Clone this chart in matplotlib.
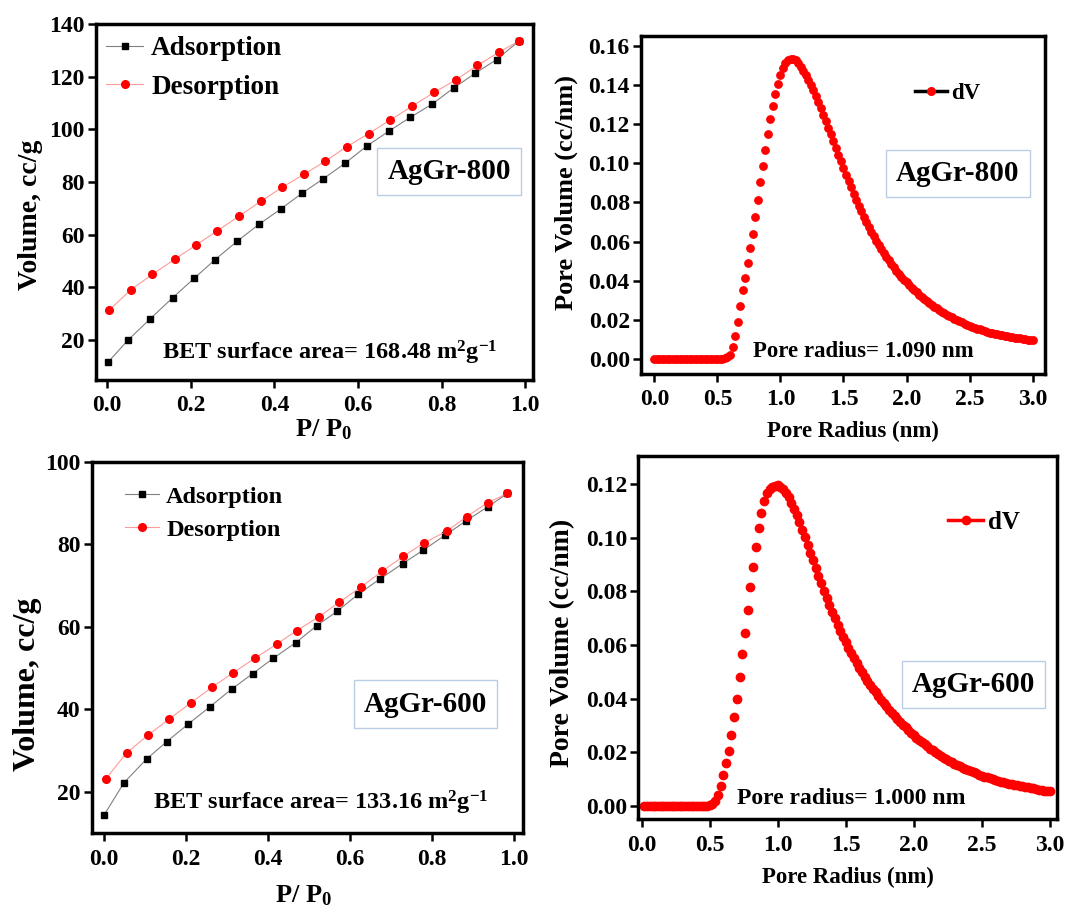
import numpy as np
import matplotlib
matplotlib.use("Agg")
import matplotlib.pyplot as plt
from matplotlib.lines import Line2D

plt.rcParams['font.family'] = ['Liberation Serif', 'DejaVu Serif']
plt.rcParams['font.weight'] = 'bold'
plt.rcParams['axes.labelweight'] = 'bold'
plt.rcParams['mathtext.fontset'] = 'custom'
plt.rcParams['mathtext.rm'] = 'Liberation Serif:bold'
plt.rcParams['mathtext.bf'] = 'Liberation Serif:bold'
plt.rcParams['mathtext.default'] = 'bf'

# ---- isotherm data, AgGr-800 ----
p800_ads = [0.002, 0.050, 0.102, 0.157, 0.208, 0.258, 0.311, 0.363, 0.415, 0.467,
            0.517, 0.569, 0.621, 0.675, 0.725, 0.778, 0.830, 0.880, 0.932, 0.986]
v800_ads = [11.6, 20.0, 27.9, 36.1, 43.4, 50.5, 57.5, 63.9, 69.7, 75.8,
            81.2, 87.1, 93.6, 99.4, 104.5, 109.6, 115.8, 121.2, 126.5, 133.6]
p800_des = [0.005, 0.056, 0.108, 0.162, 0.212, 0.263, 0.316, 0.369, 0.419, 0.472,
            0.522, 0.573, 0.626, 0.677, 0.729, 0.783, 0.834, 0.886, 0.937, 0.986]
v800_des = [31.4, 39.0, 44.9, 50.7, 56.0, 61.4, 67.1, 72.8, 78.0, 83.0,
            87.9, 93.4, 98.4, 103.5, 108.7, 114.1, 118.7, 124.3, 129.2, 133.6]

# ---- isotherm data, AgGr-600 ----
p600_ads = [0.001, 0.050, 0.105, 0.154, 0.207, 0.260, 0.312, 0.364, 0.414, 0.469,
            0.520, 0.570, 0.621, 0.674, 0.729, 0.780, 0.833, 0.883, 0.937, 0.985]
v600_ads = [14.4, 22.3, 28.0, 32.2, 36.5, 40.7, 44.9, 48.7, 52.4, 56.2,
            60.3, 63.8, 67.9, 71.6, 75.3, 78.6, 82.2, 85.6, 89.1, 92.3]
p600_des = [0.005, 0.056, 0.109, 0.160, 0.213, 0.265, 0.316, 0.369, 0.422, 0.471,
            0.526, 0.575, 0.627, 0.680, 0.731, 0.781, 0.837, 0.886, 0.937, 0.985]
v600_des = [23.1, 29.5, 33.8, 37.7, 41.6, 45.4, 48.9, 52.4, 55.8, 59.1,
            62.5, 66.0, 69.6, 73.5, 77.1, 80.3, 83.2, 86.7, 90.1, 92.3]

# ---- pore size distribution, AgGr-800 (r = 0.00 ... 3.00 nm, step 0.02) ----
dv800 = [0.0, 0.0, 0.0, 0.0, 0.0, 0.0, 0.0, 0.0, 0.0, 0.0,
         0.0, 0.0, 0.0, 0.0, 0.0, 0.0, 0.0, 0.0, 0.0, 0.0,
         0.0, 0.0, 0.0, 0.0, 0.0, 0.0, 0.0, 0.0, 0.0003, 0.001,
         0.002, 0.006, 0.0115, 0.019, 0.027, 0.035, 0.0415, 0.049, 0.0565, 0.064,
         0.0725, 0.081, 0.0905, 0.0985, 0.107, 0.115, 0.1225, 0.1295, 0.1355, 0.1405,
         0.1450, 0.1485, 0.1512, 0.1528, 0.1535, 0.1535, 0.1527, 0.1512, 0.1495, 0.1472,
         0.1452, 0.1428, 0.1402, 0.1374, 0.1345, 0.1314, 0.1282, 0.1249, 0.1216, 0.1183,
         0.1148, 0.1113, 0.1078, 0.1044, 0.1010, 0.0976, 0.0942, 0.0909, 0.0877, 0.0845,
         0.0813, 0.0783, 0.0754, 0.0726, 0.0699, 0.0674, 0.0650, 0.0627, 0.0605, 0.0583,
         0.0562, 0.0542, 0.0523, 0.0504, 0.0486, 0.0469, 0.0452, 0.0436, 0.0421, 0.0406,
         0.0392, 0.0378, 0.0365, 0.0352, 0.0340, 0.0328, 0.0317, 0.0306, 0.0296, 0.0286,
         0.0276, 0.0267, 0.0258, 0.0250, 0.0242, 0.0234, 0.0226, 0.0219, 0.0212, 0.0205,
         0.0199, 0.0193, 0.0187, 0.0181, 0.0175, 0.0170, 0.0165, 0.0160, 0.0155, 0.0151,
         0.0147, 0.0143, 0.0139, 0.0135, 0.0132, 0.0129, 0.0126, 0.0123, 0.0120, 0.0117,
         0.0115, 0.0113, 0.0111, 0.0109, 0.0107, 0.0105, 0.0103, 0.0101, 0.0099, 0.0098,
         0.0097]
r800 = np.linspace(0.0, 3.0, len(dv800))

# ---- pore size distribution, AgGr-600 (r = 0.02 ... 3.00 nm, step 0.02) ----
dv600 = [0.0, 0.0, 0.0, 0.0, 0.0, 0.0, 0.0, 0.0, 0.0, 0.0,
         0.0, 0.0, 0.0, 0.0, 0.0, 0.0, 0.0, 0.0, 0.0, 0.0,
         0.0, 0.0, 0.0, 0.0, 0.0003, 0.0008, 0.002, 0.004, 0.0075, 0.0115,
         0.016, 0.0205, 0.0265, 0.033, 0.0398, 0.048, 0.0565, 0.0645, 0.073, 0.0815,
         0.089, 0.0965, 0.1035, 0.109, 0.1135, 0.1165, 0.1182, 0.119, 0.1194, 0.1195,
         0.1190, 0.1180, 0.1168, 0.1150, 0.1130, 0.1108, 0.1083, 0.1057, 0.1030, 0.1002,
         0.0973, 0.0944, 0.0915, 0.0886, 0.0857, 0.0829, 0.0801, 0.0774, 0.0748, 0.0724,
         0.0700, 0.0676, 0.0653, 0.0631, 0.0610, 0.0590, 0.0570, 0.0551, 0.0533, 0.0515,
         0.0498, 0.0482, 0.0466, 0.0451, 0.0437, 0.0423, 0.0409, 0.0396, 0.0383, 0.0371,
         0.0359, 0.0347, 0.0336, 0.0325, 0.0314, 0.0303, 0.0293, 0.0283, 0.0273, 0.0264,
         0.0255, 0.0246, 0.0238, 0.0230, 0.0222, 0.0214, 0.0207, 0.0200, 0.0193, 0.0186,
         0.0180, 0.0174, 0.0168, 0.0162, 0.0157, 0.0152, 0.0147, 0.0142, 0.0137, 0.0133,
         0.0129, 0.0125, 0.0121, 0.0117, 0.0113, 0.0109, 0.0106, 0.0103, 0.0100, 0.0097,
         0.0094, 0.0091, 0.0088, 0.0086, 0.0083, 0.0081, 0.0079, 0.0077, 0.0075, 0.0073,
         0.0071, 0.0069, 0.0067, 0.0065, 0.0063, 0.0061, 0.0059, 0.0057, 0.0055, 0.0054]
r600 = np.linspace(0.02, 3.0, len(dv600))

fig = plt.figure(figsize=(10.69, 9.11), dpi=100)

box = dict(boxstyle='square,pad=0.35', facecolor='white', edgecolor='#b9cde5', linewidth=1)


def style_axis(ax, xt, yt, xfmt, yfmt):
    for s in ax.spines.values():
        s.set_linewidth(2.5)
    ax.set_xticks(xt)
    ax.set_yticks(yt)
    ax.set_xticklabels([xfmt.format(v) for v in xt])
    ax.set_yticklabels([yfmt.format(v) for v in yt])
    ax.tick_params(direction='out', length=6, width=1.8, labelsize=17)
    ax.tick_params(axis='x', pad=5)
    ax.tick_params(axis='y', pad=2)


# top left: AgGr-800 isotherm
ax1 = fig.add_axes([0.0898, 0.5829, 0.4088, 0.3908])
ax1.plot(p800_ads, v800_ads, color='#808080', lw=0.8, marker='s', ms=5,
         mfc='black', mec='black', label='Adsorption')
ax1.plot(p800_des, v800_des, color='#ff9a9a', lw=0.8, marker='o', ms=5.5,
         mfc='red', mec='red', label='Desorption')
ax1.set_xlim(-0.027, 1.019)
ax1.set_ylim(4.8, 140)
style_axis(ax1, [0, 0.2, 0.4, 0.6, 0.8, 1.0], [20, 40, 60, 80, 100, 120, 140], '{:.1f}', '{:d}')
ax1.set_xlabel('P/ P$_0$', fontsize=19)
ax1.set_ylabel('Volume, cc/g', fontsize=20)
ax1.xaxis.set_label_coords(0.52, -0.105)
ax1.yaxis.set_label_coords(-0.121, 0.463)
ax1.legend(loc='upper left', bbox_to_anchor=(0.024, 0.965), frameon=False, fontsize=19.5,
           borderpad=0, borderaxespad=0, handlelength=1.35, handletextpad=0.3, labelspacing=0.5)
ax1.text(0.819, 83.9, 'AgGr-800', fontsize=21, ha='center', va='center', bbox=box)
ax1.text(0.131, 12.4, 'BET surface area= 168.48 m$^2$g$^{-1}$', fontsize=17.5, ha='left', va='baseline')

# top right: AgGr-800 pore size distribution
ax2 = fig.add_axes([0.5996, 0.5895, 0.3779, 0.3714])
ax2.plot(r800, dv800, linestyle='none', marker='o', ms=5.3, mfc='red', mec='red')
ax2.set_xlim(-0.106, 3.098)
ax2.set_ylim(-0.0077, 0.1653)
style_axis(ax2, [0, 0.5, 1.0, 1.5, 2.0, 2.5, 3.0],
           [0, 0.02, 0.04, 0.06, 0.08, 0.10, 0.12, 0.14, 0.16], '{:.1f}', '{:.2f}')
ax2.set_xlabel('Pore Radius (nm)', fontsize=16.5)
ax2.set_ylabel('Pore Volume (cc/nm)', fontsize=19)
ax2.xaxis.set_label_coords(0.525, -0.14)
ax2.yaxis.set_label_coords(-0.156, 0.535)
h2 = Line2D([], [], color='black', lw=2.5, marker='o', ms=5.5, mfc='red', mec='red')
ax2.legend([h2], ['dV'], loc='upper left', bbox_to_anchor=(0.678, 0.86), frameon=False,
           fontsize=16.5, borderpad=0, borderaxespad=0, handlelength=1.4, handletextpad=0.2)
ax2.text(2.407, 0.0947, 'AgGr-800', fontsize=21, ha='center', va='center', bbox=box)
ax2.text(0.78, 0.001, 'Pore radius= 1.090 nm', fontsize=16.5, ha='left', va='baseline')

# bottom left: AgGr-600 isotherm
ax3 = fig.add_axes([0.0858, 0.0853, 0.4035, 0.4079])
ax3.plot(p600_ads, v600_ads, color='#808080', lw=0.8, marker='s', ms=5,
         mfc='black', mec='black', label='Adsorption')
ax3.plot(p600_des, v600_des, color='#ff9a9a', lw=0.8, marker='o', ms=5.5,
         mfc='red', mec='red', label='Desorption')
ax3.set_xlim(-0.029, 1.023)
ax3.set_ylim(10, 100)
style_axis(ax3, [0, 0.2, 0.4, 0.6, 0.8, 1.0], [20, 40, 60, 80, 100], '{:.1f}', '{:d}')
ax3.set_xlabel('P/ P$_0$', fontsize=19)
ax3.set_ylabel('Volume, cc/g', fontsize=23)
ax3.xaxis.set_label_coords(0.49, -0.135)
ax3.yaxis.set_label_coords(-0.115, 0.40)
ax3.legend(loc='upper left', bbox_to_anchor=(0.077, 0.935), frameon=False, fontsize=17.5,
           borderpad=0, borderaxespad=0, handlelength=1.4, handletextpad=0.3, labelspacing=0.45)
ax3.text(0.785, 41.3, 'AgGr-600', fontsize=21, ha='center', va='center', bbox=box)
ax3.text(0.121, 15.7, 'BET surface area= 133.16 m$^2$g$^{-1}$', fontsize=17.5, ha='left', va='baseline')

# bottom right: AgGr-600 pore size distribution
ax4 = fig.add_axes([0.5971, 0.1006, 0.3917, 0.3988])
ax4.plot(r600, dv600, linestyle='none', marker='o', ms=6, mfc='red', mec='red')
ax4.set_xlim(-0.025, 3.054)
ax4.set_ylim(-0.005, 0.1304)
style_axis(ax4, [0, 0.5, 1.0, 1.5, 2.0, 2.5, 3.0],
           [0, 0.02, 0.04, 0.06, 0.08, 0.10, 0.12], '{:.1f}', '{:.2f}')
ax4.set_xlabel('Pore Radius (nm)', fontsize=16.5)
ax4.set_ylabel('Pore Volume (cc/nm)', fontsize=20)
ax4.xaxis.set_label_coords(0.50, -0.13)
ax4.yaxis.set_label_coords(-0.151, 0.485)
h4 = Line2D([], [], color='red', lw=2.5, marker='o', ms=6, mfc='red', mec='red')
ax4.legend([h4], ['dV'], loc='upper left', bbox_to_anchor=(0.74, 0.85), frameon=False,
           fontsize=18, borderpad=0, borderaxespad=0, handlelength=1.4, handletextpad=0.2)
ax4.text(2.44, 0.0453, 'AgGr-600', fontsize=21, ha='center', va='center', bbox=box)
ax4.text(0.70, 0.0006, 'Pore radius= 1.000 nm', fontsize=17, ha='left', va='baseline')

fig.savefig('out.png', dpi=100)
